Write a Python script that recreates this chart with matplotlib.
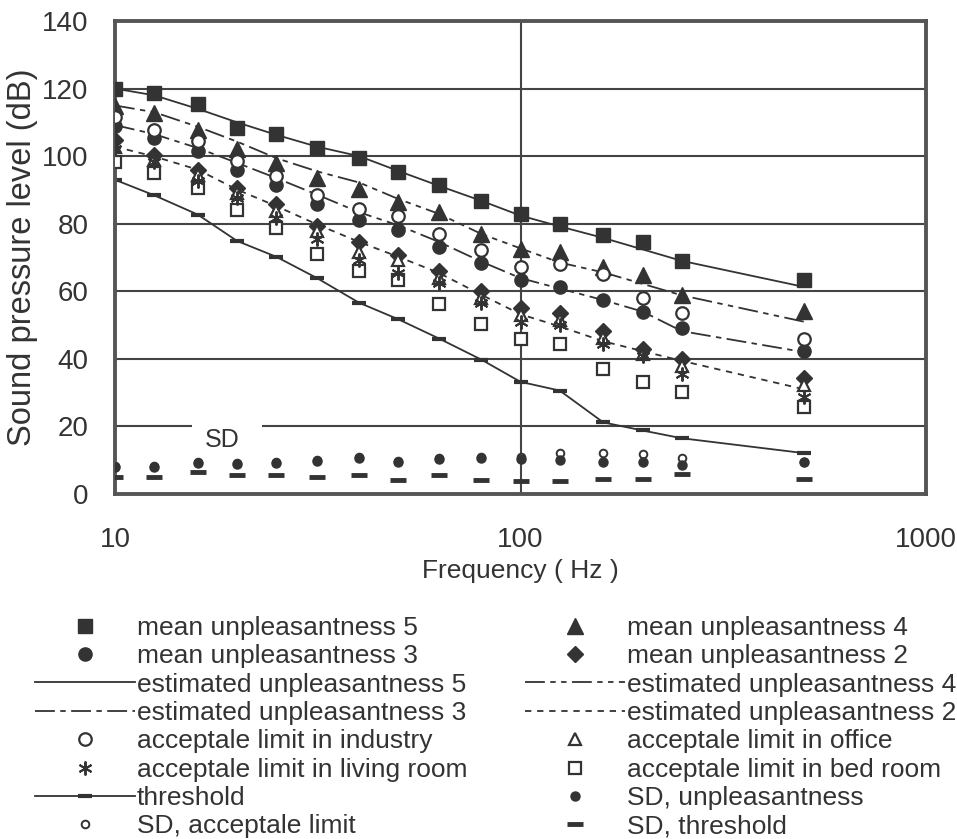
import matplotlib
matplotlib.use("Agg")
import matplotlib.pyplot as plt

plt.rcParams['font.family'] = ['Liberation Sans', 'DejaVu Sans']

freqs = [10, 12.5, 16, 20, 25, 31.5, 40, 50, 63, 80, 100, 125, 160, 200, 250, 500]

mean5 = [120, 118.7, 115.5, 108.4, 106.7, 102.3, 99.5, 95.4, 91.6, 86.7, 83.0, 80.0, 76.8, 74.5, 69.0, 63.3]
mean4 = [114.9, 112.9, 107.7, 102.2, 97.9, 93.5, 90.2, 86.3, 83.4, 77.1, 72.5, 71.5, 67.1, 64.7, 58.8, 54.2]
mean3 = [109.0, 105.3, 101.4, 96.0, 91.6, 85.7, 81.0, 78.0, 73.2, 68.3, 63.4, 61.3, 57.4, 54.0, 49.1, 42.4]
mean2 = [104.8, 100.4, 96.0, 90.6, 85.7, 79.3, 74.6, 70.7, 65.9, 60.0, 55.0, 53.5, 48.2, 42.8, 39.9, 34.4]

est5 = [120, 118, 114, 110, 106.3, 102.8, 100, 95.6, 91.2, 86.8, 82.4, 79.2, 75.8, 72.4, 69, 61.3]
est4 = [115, 113, 108.7, 104.3, 99.4, 95.5, 92.2, 87.3, 82.9, 77, 72.7, 68.5, 65.6, 62.2, 58.8, 51]
est3 = [109.2, 106.5, 102.4, 98, 93.5, 88.6, 83.4, 79.5, 74.6, 68.8, 63.9, 60.8, 57.4, 54, 48.2, 42]
est2 = [102.8, 99.9, 96, 90.1, 85.2, 79.8, 74.6, 70.2, 65.4, 59, 53.2, 49.6, 45.2, 42.3, 39.4, 31]

industry = [111.7, 107.7, 104.5, 98.6, 94.0, 88.6, 84.4, 82.4, 77.1, 72.2, 67.3, 68.0, 65.1, 58.0, 53.5, 46.0]
office = [102.8, 99.0, 94.5, 89.0, 83.7, 77.8, 71.5, 69.3, 63.9, 58.0, 53.0, 51.6, 46.2, 41.5, 38.0, 32.4]
living = [102.0, 98.4, 92.5, 87.6, 81.7, 75.4, 69.3, 65.4, 62.4, 56.6, 51.0, 50.1, 44.3, 40.9, 35.5, 28.7]
bedroom = [98.4, 95.0, 90.6, 84.2, 78.8, 71.0, 65.9, 63.4, 56.1, 50.2, 46.0, 44.3, 37.0, 33.1, 30.2, 25.8]
threshold = [93.0, 88.4, 82.7, 74.9, 70.2, 63.9, 56.6, 51.7, 46.0, 39.8, 33.2, 30.6, 21.2, 18.8, 16.5, 12.1]

sd_unpl = [8.1, 8.1, 9.3, 8.9, 9.1, 9.8, 10.6, 9.6, 10.4, 10.6, 10.3, 10.1, 9.6, 9.4, 8.7, 9.5]
sd_accept = [8.4, 8.4, 9.6, 9.2, 9.4, 10.1, 10.9, 9.9, 10.7, 11.0, 11.0, 12.0, 12.0, 11.8, 10.6, 9.6]
sd_thr = [4.9, 5.1, 6.6, 5.6, 5.6, 4.9, 5.6, 4.1, 5.6, 4.1, 3.9, 3.9, 4.4, 4.3, 6.0, 4.4]

yticks = [0, 20, 40, 60, 80, 100, 120, 140]
xticks = [10, 100, 1000]

C = '#333333'
TC = '#333333'
FS = 19

fig = plt.figure(figsize=(9.57, 8.39), dpi=100)
ax = fig.add_axes([115/957, 1-494/839, (926-115)/957, (494-21)/839])
ax.set_xscale('log')
ax.set_xlim(10, 1000)
ax.set_ylim(0, 140)

# grid
GC = '#444444'
for yv in [40, 60, 80, 100, 120]:
    ax.axhline(yv, color=GC, lw=1.5, zorder=1)
ax.hlines(20, 10, 15.5, color=GC, lw=1.5, zorder=1)
ax.hlines(20, 23.1, 1000, color=GC, lw=1.5, zorder=1)
ax.axvline(100, color=GC, lw=1.5, zorder=1)
ax.text(18.4, 16, 'SD', fontsize=18, color=TC, ha='center', va='center')

for s in ax.spines.values():
    s.set_linewidth(2.8)
    s.set_color('#555555')

ax.set_yticks(yticks)
ax.set_xticks(xticks)
ax.set_xticklabels([str(v) for v in xticks])
ax.minorticks_off()
ax.tick_params(length=0, labelsize=20, colors=TC)
ax.tick_params(axis='y', pad=19)
ax.tick_params(axis='x', pad=24)
ax.set_xlabel('Frequency ( Hz )', fontsize=FS, color=TC, labelpad=4)
ax.set_ylabel('Sound pressure level (dB)', fontsize=23.5, color=TC, labelpad=3)

lw = 1.3
h_est5, = ax.plot(freqs, est5, color=C, lw=lw, ls='-', zorder=2)
h_est4, = ax.plot(freqs, est4, color=C, lw=lw, dashes=(11, 3, 3, 3, 3, 3), zorder=2)
h_est3, = ax.plot(freqs, est3, color=C, lw=lw, dashes=(11, 3, 3, 3), zorder=2)
h_est2, = ax.plot(freqs, est2, color=C, lw=lw, dashes=(3.5, 3.2), zorder=2)
h_thr, = ax.plot(freqs, threshold, color=C, lw=lw, marker='_', ms=10, mew=3, zorder=2)

h_m5, = ax.plot(freqs, mean5, ls='none', marker='s', ms=10, color=C, mec=C, zorder=3)
h_m4, = ax.plot(freqs, mean4, ls='none', marker='^', ms=11, color=C, mec=C, zorder=3)
h_m3, = ax.plot(freqs, mean3, ls='none', marker='o', ms=9.5, color=C, mec=C, zorder=3)
h_m2, = ax.plot(freqs, mean2, ls='none', marker='D', ms=8, color=C, mec=C, zorder=3)
h_ind, = ax.plot(freqs, industry, ls='none', marker='o', ms=9, mfc='white', mec=C, mew=1.6, zorder=4)
h_off, = ax.plot(freqs, office, ls='none', marker='^', ms=9, mfc='white', mec=C, mew=1.6, zorder=4)
h_bed, = ax.plot(freqs, bedroom, ls='none', marker='s', ms=8.5, mfc='white', mec=C, mew=1.6, zorder=4)
h_liv, = ax.plot(freqs, living, ls='none', marker=(6, 2, 0), ms=10, mec=C, mew=1.4, zorder=5)

h_sdu, = ax.plot(freqs, sd_unpl, ls='none', marker='o', ms=6.5, color=C, zorder=3)
h_sda, = ax.plot(freqs, sd_accept, ls='none', marker='o', ms=5.5, mfc='white', mec=C, mew=1.4, zorder=2.5)
h_sdt, = ax.plot(freqs, sd_thr, ls='none', marker='_', ms=12, mew=3.5, color=C, zorder=3)

handles = [h_m5, h_m3, h_est5, h_est3, h_ind, h_liv, h_thr, h_sda,
           h_m4, h_m2, h_est4, h_est2, h_off, h_bed, h_sdu, h_sdt]
labels = ['mean unpleasantness 5', 'mean unpleasantness 3', 'estimated unpleasantness 5',
          'estimated unpleasantness 3', 'acceptale limit in industry', 'acceptale limit in living room',
          'threshold', 'SD, acceptale limit',
          'mean unpleasantness 4', 'mean unpleasantness 2', 'estimated unpleasantness 4',
          'estimated unpleasantness 2', 'acceptale limit in office', 'acceptale limit in bed room',
          'SD, unpleasantness', 'SD, threshold']
leg = fig.legend(handles, labels, ncol=2, loc='upper left', bbox_to_anchor=(35/957, 1-616/839),
                 frameon=False, fontsize=FS, handlelength=3.8, handletextpad=0.05,
                 columnspacing=2.2, labelspacing=0.165, borderpad=0, borderaxespad=0, numpoints=1)
for t in leg.get_texts():
    t.set_color(TC)

fig.savefig('out.png', dpi=100)
